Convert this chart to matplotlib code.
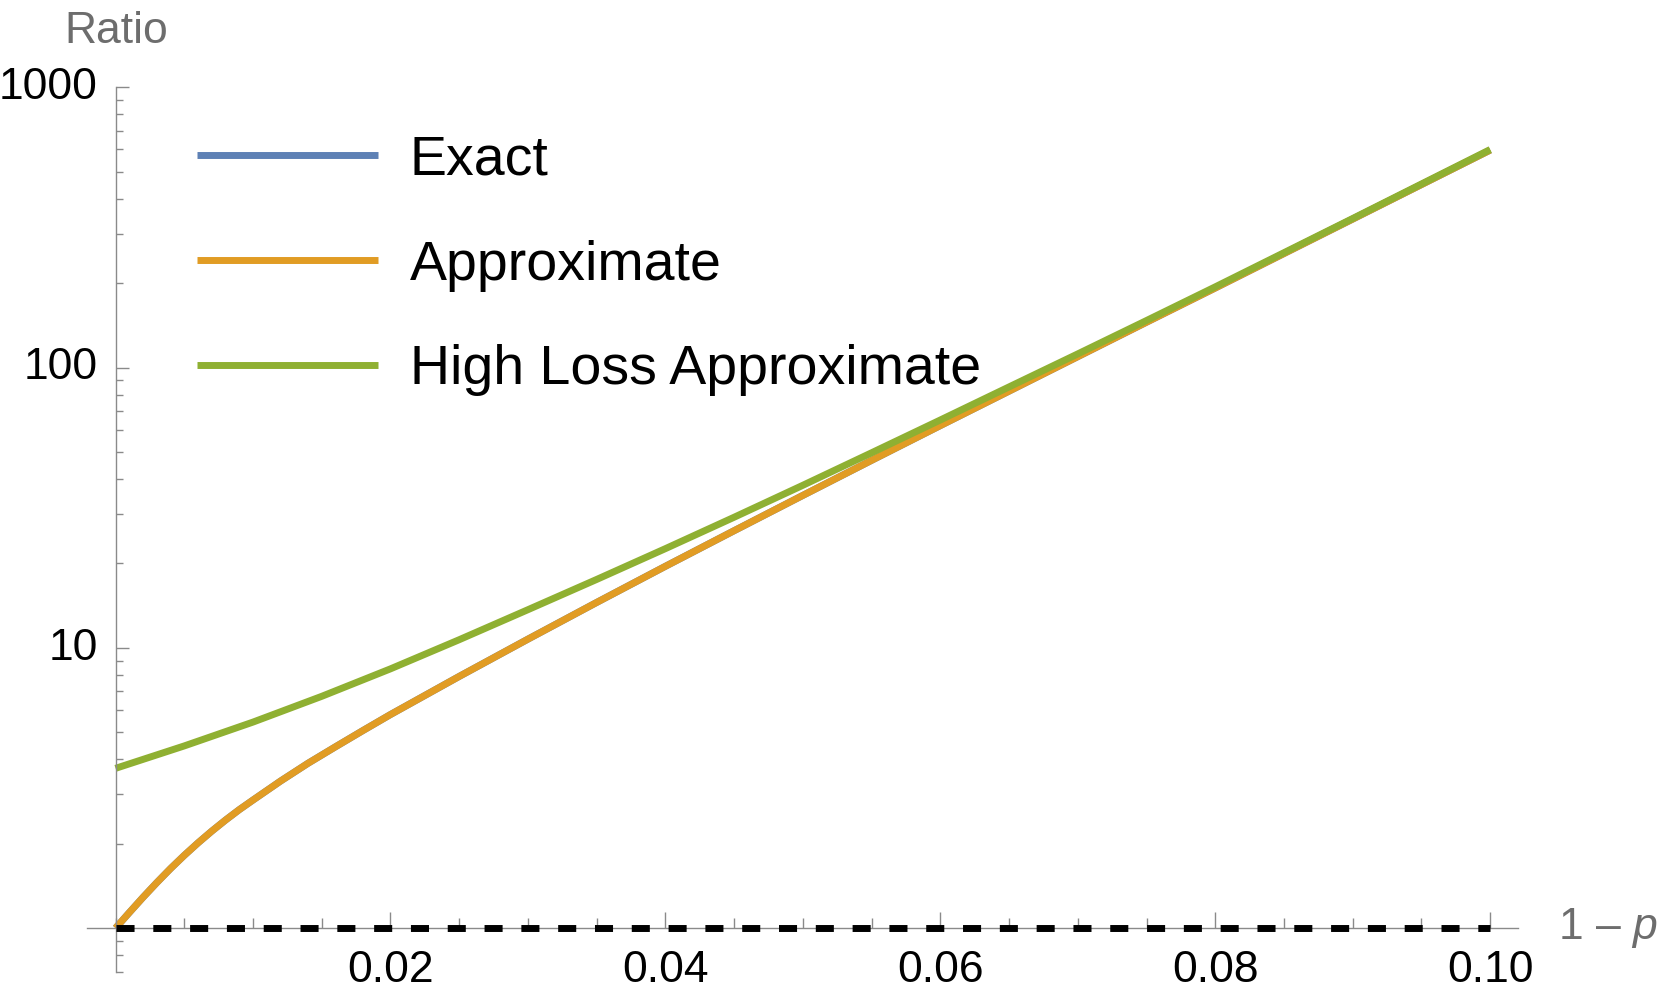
import matplotlib.pyplot as plt
from matplotlib.ticker import FixedLocator, MultipleLocator, FixedFormatter, NullFormatter
from matplotlib.transforms import ScaledTranslation

plt.rcParams['font.family'] = ['Liberation Sans', 'DejaVu Sans']
plt.rcParams['mathtext.fontset'] = 'custom'
plt.rcParams['mathtext.rm'] = 'Liberation Sans'
plt.rcParams['mathtext.it'] = 'Liberation Sans:italic'

# values (x = 1 - p)
loss = [0.0, 0.001, 0.002, 0.003, 0.004, 0.005, 0.006, 0.007, 0.008, 0.009,
        0.010, 0.012, 0.014, 0.016, 0.018, 0.020, 0.025, 0.030, 0.035, 0.040,
        0.045, 0.050, 0.055, 0.060, 0.065, 0.070, 0.075, 0.080, 0.085, 0.090,
        0.095, 0.100]
exact = [1.0, 1.136, 1.288, 1.453, 1.631, 1.818, 2.014, 2.218, 2.429, 2.646,
         2.864, 3.346, 3.873, 4.436, 5.070, 5.781, 7.907, 10.74, 14.52, 19.54,
         26.18, 34.99, 46.67, 62.09, 82.41, 109.4, 145.2, 192.3, 255.3, 338.8,
         449.8, 597.0]
approximate = [1.0, 1.136, 1.288, 1.453, 1.631, 1.818, 2.014, 2.218, 2.429, 2.646,
               2.864, 3.346, 3.873, 4.436, 5.070, 5.781, 7.907, 10.74, 14.52, 19.54,
               26.18, 34.99, 46.67, 62.09, 82.41, 109.4, 145.2, 192.3, 255.3, 338.8,
               449.8, 597.0]
high_loss_x = [0.0, 0.005, 0.01, 0.015, 0.02, 0.025, 0.03, 0.035, 0.04, 0.045,
               0.05, 0.055, 0.06, 0.065, 0.07, 0.075, 0.08, 0.085, 0.09, 0.095, 0.10]
high_loss = [3.715, 4.467, 5.433, 6.714, 8.414, 10.69, 13.68, 17.54, 22.59, 29.24,
             38.02, 49.66, 65.01, 85.31, 111.9, 147.2, 194.1, 257.0, 340.4, 451.9, 599.8]
baseline_x = [0.0, 0.10]
baseline_y = [1.0, 1.0]

series_labels = ["Exact", "Approximate", "High Loss Approximate"]
colors = ["#5E81B5", "#E19C24", "#8FB032"]
x_ticks = [0.02, 0.04, 0.06, 0.08, 0.10]
y_ticks = [10, 100, 1000]
y_minor = [0.7, 0.8, 0.9] + [m * d for d in (1, 10, 100) for m in range(2, 10)]

fig = plt.figure(figsize=(16.61, 10.06), dpi=100)
ax = fig.add_axes([86.7 / 1661, 34.5 / 1006, (1517.7 - 86.7) / 1661, (971.5 - 87.3) / 1006])
ax.set_yscale('log')
ax.set_xlim(-0.0021, 0.102)
ax.set_ylim(0.7, 1000)

lw = 5
ax.plot(loss, exact, color=colors[0], lw=lw, label=series_labels[0], solid_capstyle='butt')
ax.plot(loss, approximate, color=colors[1], lw=lw, label=series_labels[1], solid_capstyle='butt')
ax.plot(high_loss_x, high_loss, color=colors[2], lw=lw, label=series_labels[2], solid_capstyle='butt')
ax.plot(baseline_x, baseline_y, color='black', lw=lw, linestyle=(0, (2.6, 2.7)), zorder=5)

gray = '#8a8a8a'
for side in ('top', 'right'):
    ax.spines[side].set_visible(False)
ax.spines['left'].set_position(('data', 0))
ax.spines['bottom'].set_position(('data', 1))
for side in ('left', 'bottom'):
    ax.spines[side].set_color(gray)
    ax.spines[side].set_linewidth(1.0)

ax.xaxis.set_major_locator(FixedLocator(x_ticks))
ax.xaxis.set_major_formatter(FixedFormatter(["%.2f" % t for t in x_ticks]))
ax.xaxis.set_minor_locator(MultipleLocator(0.005))
ax.yaxis.set_major_locator(FixedLocator(y_ticks))
ax.yaxis.set_major_formatter(FixedFormatter([str(t) for t in y_ticks]))
ax.yaxis.set_minor_locator(FixedLocator(y_minor))
ax.yaxis.set_minor_formatter(NullFormatter())

ax.tick_params(axis='x', which='major', direction='in', length=11.5, width=1.0,
               color=gray, labelsize=32, pad=15.5)
ax.tick_params(axis='x', which='minor', direction='in', length=7, width=1.0, color=gray)
ax.tick_params(axis='y', which='major', direction='in', length=9.5, width=1.0,
               color=gray, labelsize=32, pad=12.7)
ax.tick_params(axis='y', which='minor', direction='in', length=5, width=1.0, color=gray)

# nudge y labels up a little, like the reference
shift = ScaledTranslation(0, 3 / 72, fig.dpi_scale_trans)
for lab in ax.get_yticklabels():
    lab.set_transform(lab.get_transform() + shift)

fig.text(116.7 / 1661, (1006 - 42.7) / 1006, "Ratio", fontsize=32, color='#6d6d6d',
         ha='center', va='baseline')
fig.text(1558 / 1661, (1006 - 939.3) / 1006, "1 \u2013 $p$", fontsize=32, color='#6d6d6d',
         ha='left', va='baseline')

ax.legend(loc='center left', bbox_to_anchor=(197.3 / 1661, (1006 - 265.5) / 1006),
          bbox_transform=fig.transFigure, frameon=False, fontsize=40,
          handlelength=3.25, handletextpad=0.57, labelspacing=0.95,
          borderpad=0, borderaxespad=0)

fig.savefig("out.png", dpi=100)
